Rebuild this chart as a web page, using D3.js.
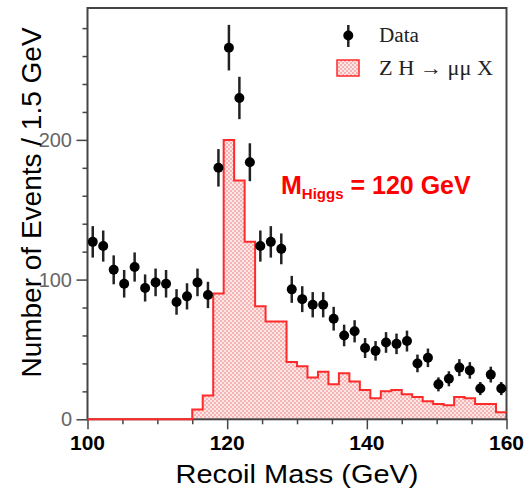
<!DOCTYPE html>
<html>
<head>
<meta charset="utf-8">
<script src="https://cdn.jsdelivr.net/npm/d3@7"></script>
<style>
  body { margin: 0; background: #fff; }
  svg { display: block; }
</style>
</head>
<body>
<div id="chart"></div>
<script>
// bins of 1.5 GeV from 100 to 160 GeV
const binStart = 100;
const binWidth = 1.5;
const dataCounts = [127, 124, 107, 97, 109, 94, 98, 97, 84, 88,
                    98, 89, 180, 266, 230, 184, 124, 127, 122, 93,
                    86, 82, 82, 72, 60, 63, 51, 49, 55, 54,
                    56, 40, 44, 25, 29, 37, 35, 22, 32, 22];
const signalCounts = [0, 0, 0, 0, 0, 0, 0, 0, 0, 0,
                      7, 17, 90, 200, 171, 127, 81, 70, 70, 41,
                      38, 30, 34, 25, 33, 27, 21, 15, 20, 21,
                      18, 16, 13, 11, 10, 16, 15, 11, 11, 5];
const xTicks = [100, 120, 140, 160];
const yTicks = [0, 100, 200];
const legendLabels = ['Data', 'Z H \u2192 \u03bc\u03bc X'];

const width = 526, height = 490;
const margin = { top: 8, right: 19.5, bottom: 70.7, left: 87.5 };
const font = '"Liberation Sans", Arial, sans-serif';
const serif = '"Liberation Serif", "Times New Roman", serif';

const svg = d3.select('#chart').append('svg')
    .attr('width', width)
    .attr('height', height);

const defs = svg.append('defs');
const pat = defs.append('pattern')
    .attr('id', 'check')
    .attr('patternUnits', 'userSpaceOnUse')
    .attr('width', 4).attr('height', 4);
pat.append('rect').attr('width', 4).attr('height', 4).attr('fill', '#fde6e6');
pat.append('rect').attr('width', 2).attr('height', 2).attr('fill', '#f6b3b3');
pat.append('rect').attr('x', 2).attr('y', 2).attr('width', 2).attr('height', 2).attr('fill', '#f6b3b3');

const x = d3.scaleLinear().domain([100, 160]).range([margin.left, width - margin.right]);
const y = d3.scaleLinear().domain([0, 294.4]).range([height - margin.bottom, margin.top]);

// signal histogram
const edges = signalCounts.map((v, i) => ({ e: binStart + i * binWidth, v: v }));
edges.push({ e: binStart + signalCounts.length * binWidth, v: signalCounts[signalCounts.length - 1] });

svg.append('path')
    .datum(edges)
    .attr('fill', 'url(#check)')
    .attr('d', d3.area().curve(d3.curveStepAfter)
        .x(d => x(d.e)).y0(y(0)).y1(d => y(d.v)));

// axes
const axisColor = '#444';
svg.append('rect')
    .attr('x', x(100)).attr('y', y.range()[1])
    .attr('width', x(160) - x(100)).attr('height', y(0) - y.range()[1])
    .attr('fill', 'none').attr('stroke', axisColor).attr('stroke-width', 2);

const xAxis = svg.append('g')
    .attr('transform', 'translate(0,' + y(0) + ')')
    .call(d3.axisBottom(x).tickValues(d3.range(100, 161, 5)).tickSize(5).tickFormat(''));
xAxis.call(g => g.select('.domain').remove());
xAxis.selectAll('line').attr('stroke', axisColor).attr('stroke-width', 1.5)
    .attr('y1', 0)
    .attr('y2', d => xTicks.includes(d) ? 10 : 5);
svg.append('g').selectAll('text')
    .data(xTicks)
    .enter()
    .append('text')
    .attr('x', d => x(d))
    .attr('y', 450)
    .attr('text-anchor', 'middle')
    .attr('font-family', font)
    .attr('font-weight', 'bold')
    .attr('font-size', 21)
    .attr('fill', '#000')
    .text(d => d);

const yAxis = svg.append('g')
    .attr('transform', 'translate(' + x(100) + ',0)')
    .call(d3.axisLeft(y).tickValues(d3.range(0, 281, 20)).tickSize(5).tickFormat(''));
yAxis.call(g => g.select('.domain').remove());
yAxis.selectAll('line').attr('stroke', axisColor).attr('stroke-width', 1.5)
    .attr('x2', d => yTicks.includes(d) ? -11 : -5);
svg.append('g').selectAll('text')
    .data(yTicks)
    .enter()
    .append('text')
    .attr('x', 72)
    .attr('y', d => y(d) + 7)
    .attr('text-anchor', 'end')
    .attr('font-family', font)
    .attr('font-size', 20)
    .attr('fill', '#666')
    .text(d => d);

// histogram outline on top of the frame
svg.append('path')
    .datum(edges)
    .attr('fill', 'none')
    .attr('stroke', '#ff2a2a')
    .attr('stroke-width', 2)
    .attr('d', d3.line().curve(d3.curveStepAfter).x(d => x(d.e)).y(d => y(d.v)));

// data points with sqrt(N) errors
const pts = svg.append('g')
    .selectAll('g')
    .data(dataCounts)
    .enter()
    .append('g');
pts.append('line')
    .attr('x1', (d, i) => x(binStart + (i + 0.5) * binWidth))
    .attr('x2', (d, i) => x(binStart + (i + 0.5) * binWidth))
    .attr('y1', d => y(d - Math.sqrt(d)))
    .attr('y2', d => y(d + Math.sqrt(d)))
    .attr('stroke', '#222')
    .attr('stroke-width', 2.5);
pts.append('circle')
    .attr('cx', (d, i) => x(binStart + (i + 0.5) * binWidth))
    .attr('cy', d => y(d))
    .attr('r', 5)
    .attr('fill', '#000');

// labels
svg.append('text')
    .attr('x', x(130))
    .attr('y', 483)
    .attr('text-anchor', 'middle')
    .attr('font-family', font)
    .attr('font-size', 26)
    .attr('textLength', 243)
    .attr('lengthAdjust', 'spacingAndGlyphs')
    .text('Recoil Mass (GeV)');

svg.append('text')
    .attr('transform', 'translate(41,202.5) rotate(-90)')
    .attr('text-anchor', 'middle')
    .attr('font-family', font)
    .attr('font-size', 28)
    .text('Number of Events / 1.5 GeV');

const note = svg.append('text')
    .attr('x', 281)
    .attr('y', 194.3)
    .attr('font-family', font)
    .attr('font-weight', 'bold')
    .attr('font-size', 25)
    .attr('fill', '#ff0000');
note.append('tspan').text('M');
note.append('tspan').attr('font-size', 15).attr('dy', 5).text('Higgs');
note.append('tspan').attr('dy', -5).text(' = 120 GeV');

// legend
const leg = svg.append('g');
leg.append('line')
    .attr('x1', 348.3).attr('x2', 348.3).attr('y1', 25).attr('y2', 47)
    .attr('stroke', '#222').attr('stroke-width', 2.5);
leg.append('circle').attr('cx', 348.3).attr('cy', 35.5).attr('r', 5).attr('fill', '#000');
leg.append('rect')
    .attr('x', 337).attr('y', 60).attr('width', 22).attr('height', 16)
    .attr('fill', 'url(#check)').attr('stroke', '#ff2a2a').attr('stroke-width', 1.5);
leg.selectAll('text.lab')
    .data(legendLabels)
    .enter()
    .append('text')
    .attr('class', 'lab')
    .attr('x', 379)
    .attr('y', (d, i) => 41.7 + i * 33.3)
    .attr('font-family', serif)
    .attr('font-size', 20)
    .attr('textLength', (d, i) => i === 0 ? 40 : 114)
    .attr('lengthAdjust', 'spacingAndGlyphs')
    .attr('fill', '#222')
    .text(d => d);
</script>
</body>
</html>
